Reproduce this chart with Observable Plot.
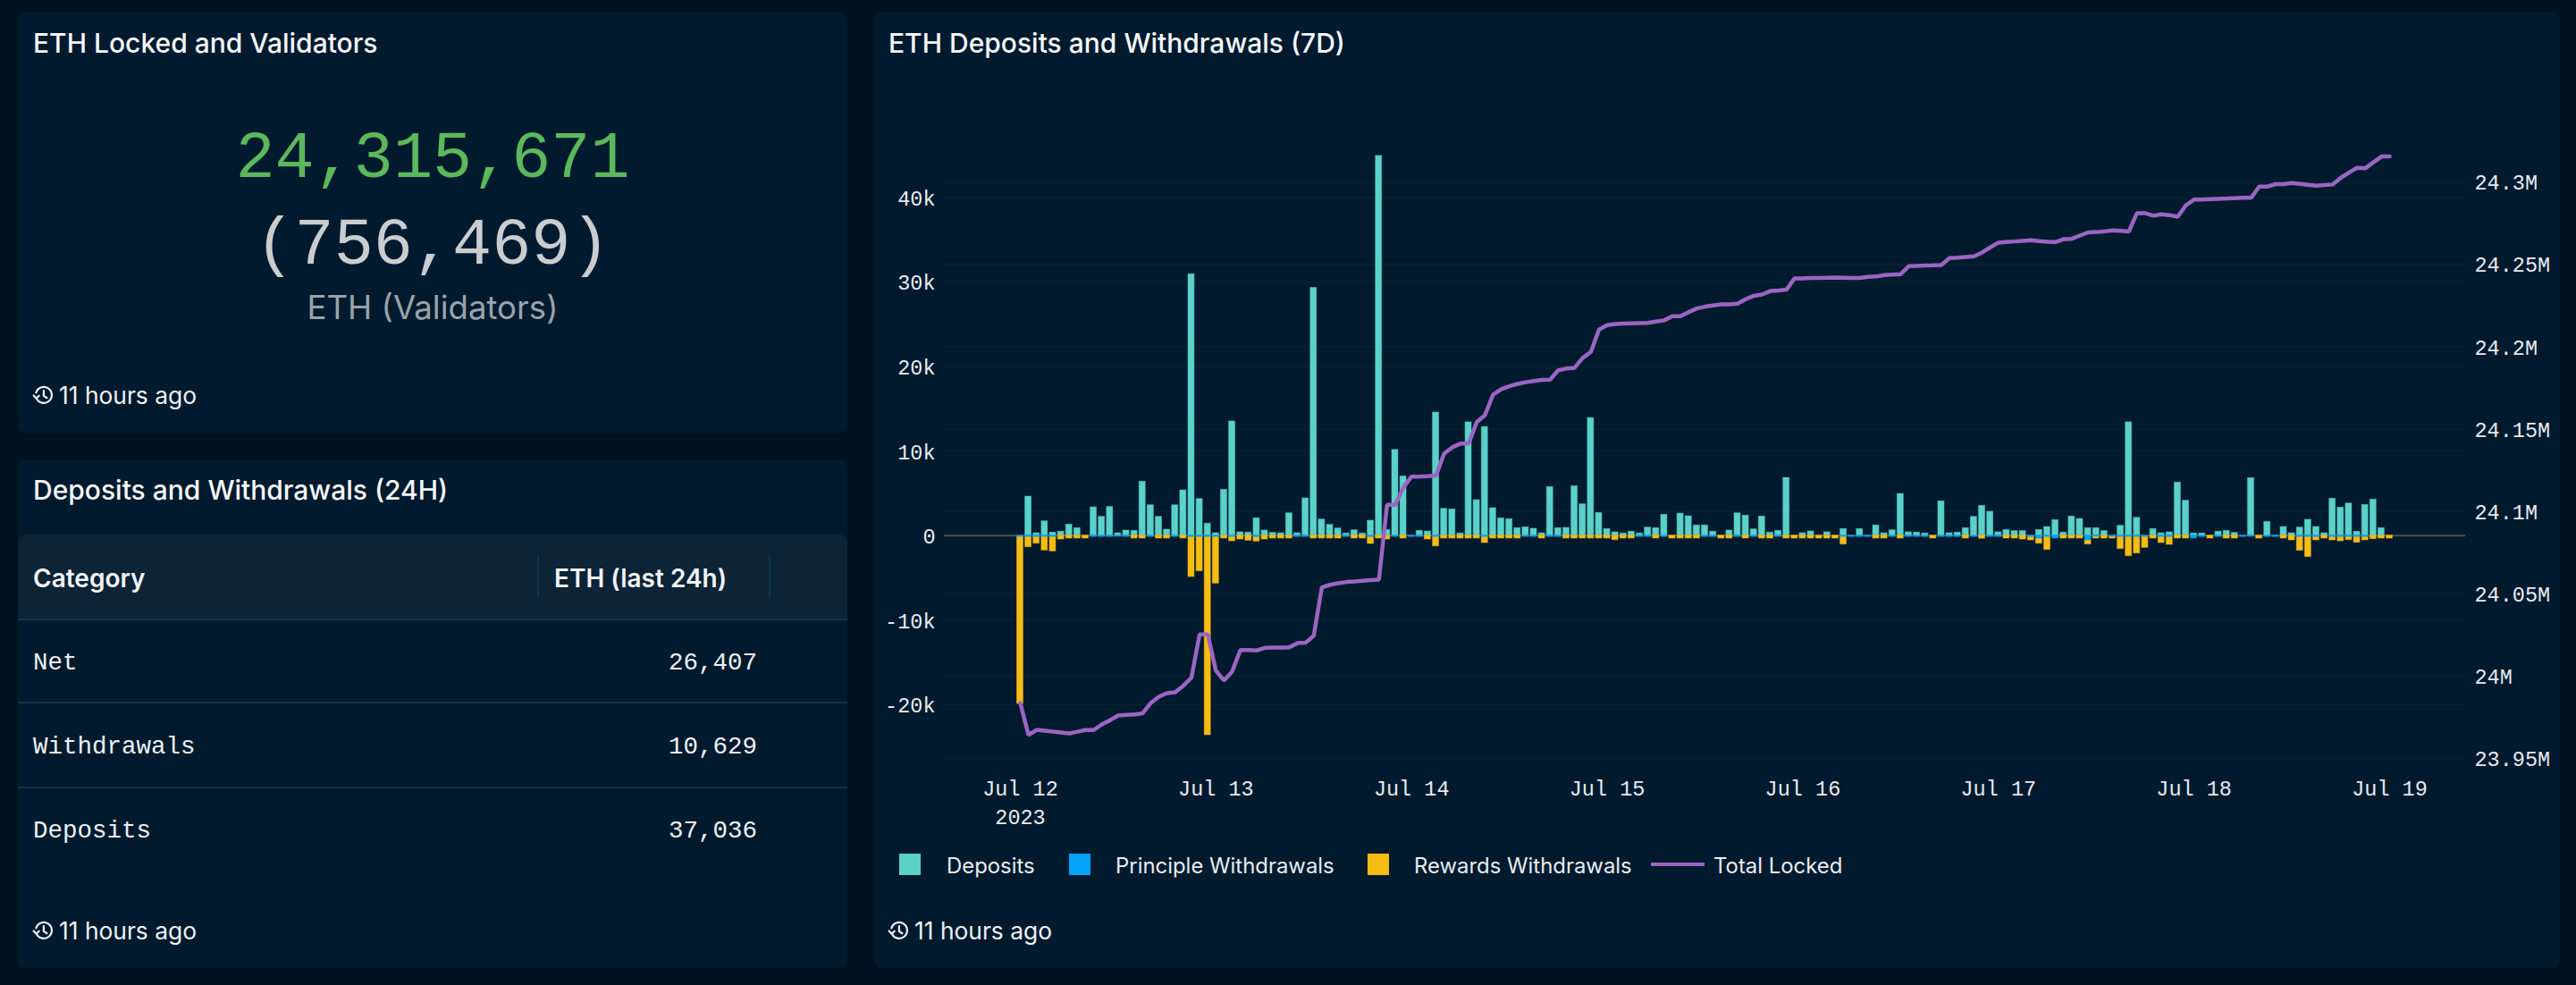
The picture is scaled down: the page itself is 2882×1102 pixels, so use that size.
<!DOCTYPE html>
<html>
<head>
<meta charset="utf-8">
<script src="https://cdn.jsdelivr.net/npm/d3@7"></script>
<script src="https://cdn.jsdelivr.net/npm/@observablehq/plot@0.6"></script>
<style>
  html, body { margin: 0; padding: 0; background: #02131f; width: 2882px; height: 1102px; overflow: hidden; }
  body { font-family: Inter, "Noto Sans", sans-serif; color: #f2f4f6; position: relative; }
  .panel { position: absolute; background: #011a2e; border-radius: 8px; }
  .abs { position: absolute; white-space: nowrap; line-height: 1; }
  .title { font-size: 30px; font-weight: 500; color: #f4f6f8; transform: translateY(-50%); }
  .mono { font-family: "Liberation Mono", "DejaVu Sans Mono", monospace; }
  .ago { font-size: 26.4px; color: #eef1f3; transform: translateY(-50%); display: flex; align-items: center; gap: 5px; }
  .big { transform: translate(-50%, -50%); }
  .leg { font-size: 23.9px; color: #e9ecef; transform: translateY(-50%); }
  .sw { position: absolute; width: 24px; height: 24px; }
  #chart { position: absolute; left: 978px; top: 14px; }
  #chart svg { display: block; }
</style>
</head>
<body>
<div id="page"></div>
<div id="chart"></div>
<script>
// ---------- figures ----------
const statLocked = "24,315,671";
const statValidators = "(756,469)";
const statUnit = "ETH (Validators)";
const tableHead = ["Category", "ETH (last 24h)"];
const tableCategories = ["Net", "Withdrawals", "Deposits"];
const tableValues = ["26,407", "10,629", "37,036"];
const freshness = "11 hours ago";
const legendLabels = ["Deposits", "Principle Withdrawals", "Rewards Withdrawals", "Total Locked"];

// ---------- hourly series, Jul 12 00:00 to Jul 19 00:00 (2023) ----------
const deposits = [0,4610,280,1690,350,460,1300,880,0,3340,2220,3380,280,600,560,6370,3590,2220,700,3590,5350,30900,4330,1410,280,5420,13500,390,350,2040,600,320,280,2640,280,4400,29300,1900,1270,845,250,630,250,1760,44900,670,10140,7000,0,560,490,14550,3170,3100,250,13400,4190,12850,3240,2040,1940,880,985,810,280,5740,880,915,5840,3700,13900,2675,775,390,250,460,250,950,880,2460,0,2600,2290,1200,1200,460,0,600,2640,2360,740,2250,350,560,6830,0,280,490,0,390,0,775,0,775,0,1200,280,630,4930,390,350,250,0,4050,280,350,880,2220,3520,2820,390,670,530,530,0,670,1020,1830,350,2250,1970,880,880,530,0,1160,13400,2110,0,775,280,390,6270,4120,250,250,0,460,560,320,0,6790,0,1620,0,1020,280,950,1870,1020,280,4360,3310,3800,460,3630,4260,880,0];
const principal = [150,150,150,150,150,0,0,0,0,150,150,150,120,150,0,0,150,0,0,150,0,150,150,150,150,0,150,0,0,150,0,0,0,0,150,150,0,0,0,0,150,0,0,150,0,0,150,0,150,150,0,150,0,0,0,0,0,150,0,0,0,0,150,150,0,150,150,0,0,0,0,0,0,0,0,0,150,150,0,150,0,0,0,0,150,150,0,0,150,0,150,0,0,150,0,0,0,0,0,0,0,150,150,150,150,0,0,150,0,150,150,150,0,150,150,150,0,150,0,150,150,0,0,0,150,350,150,350,0,0,0,560,120,0,120,150,150,150,150,0,150,150,0,0,350,150,0,150,0,0,150,120,0,150,150,0,0,150,150,150,0,150,150,150,150,150,0,0,0];
const rewards = [19750,1220,800,1610,1720,460,350,350,350,0,0,0,0,0,350,350,0,350,350,0,350,4740,4070,23450,5520,350,520,460,600,550,460,350,350,350,0,0,350,350,350,350,0,350,350,835,350,460,0,350,0,0,460,1120,350,350,350,350,350,730,350,350,350,350,0,0,350,0,0,350,350,350,350,350,350,530,350,350,0,0,350,0,350,350,350,350,0,0,350,350,0,350,0,350,350,0,350,350,350,350,350,350,350,900,0,0,0,350,350,0,350,0,0,0,350,0,0,0,350,0,370,0,0,350,350,460,410,600,1540,0,350,350,350,490,230,350,230,1430,2280,1960,1290,350,730,940,350,350,0,0,350,0,350,350,0,0,350,0,0,350,560,1640,2380,410,350,410,520,380,690,410,420,350,350];
const locked = [23983700,23964300,23967400,23966900,23966300,23965800,23965300,23966300,23967300,23967300,23970700,23973200,23976100,23976500,23976800,23977400,23983700,23987500,23989700,23990200,23994200,23999100,24025400,24025400,24003300,23997400,24002900,24015900,24015900,24015600,24017200,24017400,24017400,24017500,24020100,24020300,24024600,24053900,24055500,24056500,24057200,24057500,24057900,24058300,24058600,24104100,24104100,24114600,24121200,24121200,24121400,24121800,24135200,24139000,24141200,24141200,24154300,24158500,24170900,24174300,24176100,24177500,24178500,24179300,24179900,24180100,24185800,24186800,24187300,24193300,24196900,24210500,24213200,24213900,24214100,24214300,24214400,24214500,24215400,24216100,24218600,24218600,24221100,24223300,24224400,24225100,24225800,24225800,24226200,24228900,24231000,24231800,24233900,24234200,24234700,24241600,24241600,24241800,24241800,24242000,24242100,24242000,24241800,24241800,24242500,24242700,24243600,24243800,24244100,24249000,24249200,24249400,24249500,24249700,24253900,24254200,24254600,24255000,24257300,24260400,24263300,24263700,24264000,24264400,24264800,24264200,24263800,24263600,24265400,24265600,24267600,24269500,24269700,24270100,24270700,24270500,24270000,24281200,24281200,24279600,24280500,24280000,24279000,24285900,24289400,24289500,24289700,24289900,24290100,24290300,24290500,24290500,24297300,24297300,24298800,24298800,24299500,24299000,24298400,24297900,24298200,24298600,24302600,24305800,24308700,24308400,24312000,24315600,24315671];

// ---------- axes ----------
const dayTicks = [12,13,14,15,16,17,18,19];
const yearLabel = "2023";
const leftTicks = [-20000,-10000,0,10000,20000,30000,40000];
const leftLabels = ["-20k","-10k","0","10k","20k","30k","40k"];
const rightTicks = [23950000,24000000,24050000,24100000,24150000,24200000,24250000,24300000];
const rightLabels = ["23.95M","24M","24.05M","24.1M","24.15M","24.2M","24.25M","24.3M"];

// ---------- colours ----------
const cDeposit = "#5ad1c9", cPrincipal = "#03a3fb", cRewards = "#f6bc14", cLocked = "#9b65c2";
const cGrid = "#07202f", cZero = "#4c5155", cText = "#e8ebee";

// ---------- page furniture ----------
const page = document.getElementById("page");
function el(cls, css, text) {
  const d = document.createElement("div");
  d.className = cls; d.style.cssText = css;
  if (text != null) d.textContent = text;
  page.appendChild(d); return d;
}
const clock = '<svg width="25" height="25" viewBox="0 0 24 24" fill="none" stroke="#eef1f3" stroke-width="2.1" stroke-linecap="round" stroke-linejoin="round"><path d="M4.6 15.2A8.6 8.6 0 1 0 4.2 9.2"/><path d="M1.6 12.2 4.4 15.4 7.4 12.4"/><path d="M12.4 7v5.6l3.4 2.2"/></svg>';
function ago(x, y) { el("abs ago", `left:${x}px;top:${y}px`).innerHTML = clock + "<span>" + freshness + "</span>"; }

el("panel", "left:20px;top:14px;width:928px;height:470px");
el("panel", "left:20px;top:514px;width:928px;height:569px");
el("panel", "left:978px;top:14px;width:1886px;height:1069px");

el("abs title", "left:37px;top:48px", "ETH Locked and Validators");
el("abs big mono", "left:484px;top:179px;font-size:73.5px;color:#5cb85c", statLocked);
el("abs big mono", "left:484px;top:276px;font-size:73.5px;color:#c9cdd0", statValidators);
el("abs big", "left:484px;top:344px;font-size:36.6px;color:#9aa3ab", statUnit);
ago(36, 442);

el("abs title", "left:37px;top:548px", "Deposits and Withdrawals (24H)");
el("", "position:absolute;left:20px;top:598px;width:928px;height:95px;background:#0d2336;border-radius:8px 8px 0 0");
el("", "position:absolute;left:20px;top:692px;width:928px;height:2px;background:#13344f");
el("", "position:absolute;left:20px;top:785px;width:928px;height:2px;background:#13344f");
el("", "position:absolute;left:20px;top:880px;width:928px;height:2px;background:#13344f");
el("", "position:absolute;left:601px;top:622px;width:2px;height:46px;background:#13344f");
el("", "position:absolute;left:860px;top:622px;width:2px;height:46px;background:#13344f");
el("abs", "left:37px;top:647px;font-size:28px;font-weight:600;transform:translateY(-50%)", tableHead[0]);
el("abs", "left:620px;top:647px;font-size:28px;font-weight:600;transform:translateY(-50%)", tableHead[1]);
const rowY = [742, 836, 930];
tableCategories.forEach((c, i) => {
  el("abs mono", `left:37px;top:${rowY[i]}px;font-size:27.5px;transform:translateY(-50%);color:#eef1f3`, c);
  el("abs mono", `right:${2882-847}px;top:${rowY[i]}px;font-size:27.5px;transform:translateY(-50%);color:#eef1f3`, tableValues[i]);
});
ago(36, 1041);

el("abs title", "left:994px;top:48px", "ETH Deposits and Withdrawals (7D)");
el("sw", `left:1006px;top:955px;background:${cDeposit}`);
el("abs leg", "left:1059px;top:969px", legendLabels[0]);
el("sw", `left:1196px;top:955px;background:${cPrincipal}`);
el("abs leg", "left:1248px;top:969px", legendLabels[1]);
el("sw", `left:1530px;top:955px;background:${cRewards}`);
el("abs leg", "left:1582px;top:969px", legendLabels[2]);
el("", `position:absolute;left:1847px;top:965px;width:60px;height:4px;background:${cLocked}`);
el("abs leg", "left:1917px;top:969px", legendLabels[3]);
ago(993, 1041);

// ---------- chart ----------
const hour = i => new Date(Date.UTC(2023, 6, 12, i));
const shift = (d, h) => new Date(+d + h * 3600e3);
const rows = deposits.map((v, i) => ({
  t: hour(i), deposit: v, principal: -principal[i],
  rewards: -(principal[i] + rewards[i]), locked: locked[i]
}));
// the locked series shares the frame through a second, linear axis
const toLeft = L => -16628 + (L - 24000000) * 0.19475;
const half = 0.38;
const barStyle = c => ({ fill: c, stroke: c, strokeOpacity: 0.5, strokeWidth: 1 });

const chart = Plot.plot({
  width: 1886, height: 930,
  marginLeft: 78, marginRight: 106, marginTop: 111.7, marginBottom: 96,
  style: { background: "transparent", color: cText, fontFamily: '"Liberation Mono","DejaVu Sans Mono",monospace', fontSize: "23.5px" },
  x: { type: "utc", domain: [shift(hour(0), -9.32), shift(hour(168), 9.32)] },
  y: { domain: [-26353, 50000] },
  marks: [
    Plot.gridY(rightTicks.map(toLeft), { stroke: cGrid, strokeOpacity: 1, strokeWidth: 2 }),
    Plot.gridY(leftTicks, { stroke: cGrid, strokeOpacity: 1, strokeWidth: 2 }),
    Plot.ruleY([0], { stroke: cZero, strokeWidth: 2 }),
    Plot.rectY(rows.filter(r => r.deposit > 0), { x1: d => shift(d.t, -half), x2: d => shift(d.t, half), y1: 0, y2: "deposit", ...barStyle(cDeposit) }),
    Plot.rectY(rows.filter(r => r.rewards < r.principal), { x1: d => shift(d.t, -half), x2: d => shift(d.t, half), y1: "principal", y2: "rewards", ...barStyle(cRewards) }),
    Plot.rectY(rows.filter(r => r.principal < 0), { x1: d => shift(d.t, -half), x2: d => shift(d.t, half), y1: 0, y2: "principal", ...barStyle(cPrincipal) }),
    Plot.line(rows, { x: "t", y: d => toLeft(d.locked), stroke: cLocked, strokeWidth: 4.5, strokeLinejoin: "miter" }),
    Plot.axisY(leftTicks, { anchor: "left", tickSize: 0, tickPadding: 10, dy: 1.5, label: null, tickFormat: (d, i) => leftLabels[i] }),
    Plot.axisY(rightTicks.map(toLeft), { anchor: "right", tickSize: 0, tickPadding: 10, dy: 1, label: null, tickFormat: (d, i) => rightLabels[i] }),
    Plot.axisX(dayTicks.map(d => new Date(Date.UTC(2023, 6, d))), {
      tickSize: 0, tickPadding: 25, label: null,
      tickFormat: d => d3.utcFormat("%b %-d")(d)
    }),
    Plot.axisX([new Date(Date.UTC(2023, 6, dayTicks[0]))], {
      tickSize: 0, tickPadding: 57, label: null, tickFormat: () => yearLabel
    })
  ]
});
document.getElementById("chart").appendChild(chart);
</script>
</body>
</html>
